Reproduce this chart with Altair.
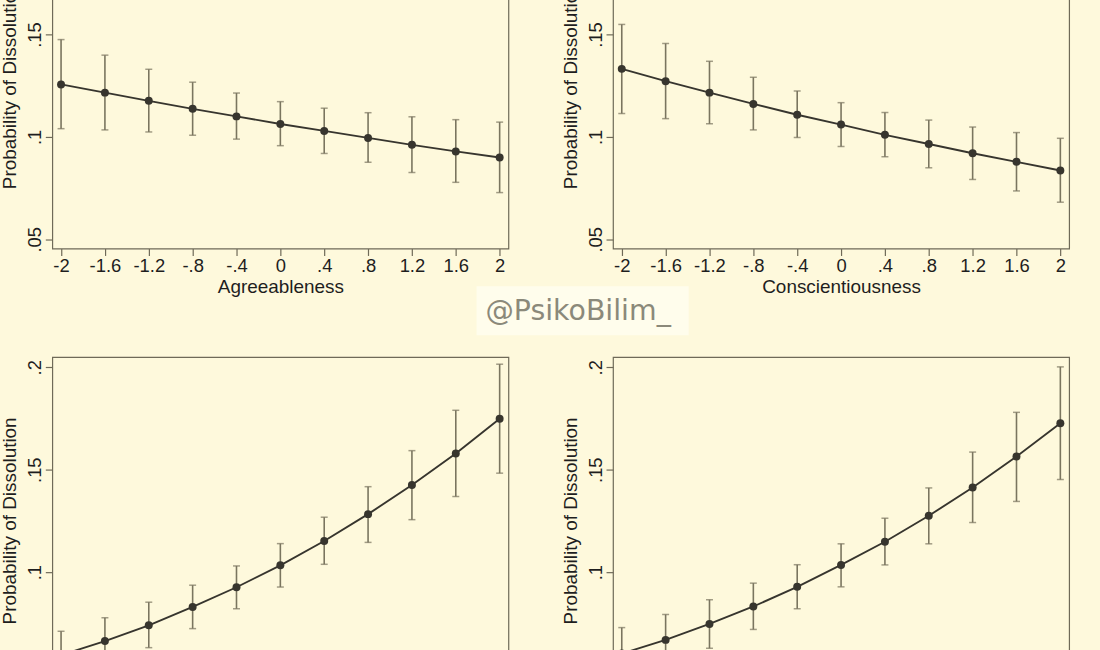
import altair as alt
import pandas as pd

# ---------------- data ----------------
x_levels = [-2, -1.6, -1.2, -0.8, -0.4, 0, 0.4, 0.8, 1.2, 1.6, 2]
y_ticks = [0.05, 0.1, 0.15, 0.2]

agree_est = [0.1256, 0.1216, 0.1176, 0.1137, 0.1100, 0.1063, 0.1029, 0.0995, 0.0961, 0.0929, 0.0899]
agree_lo = [0.1040, 0.1034, 0.1024, 0.1008, 0.0989, 0.0957, 0.0919, 0.0876, 0.0826, 0.0778, 0.0728]
agree_hi = [0.1475, 0.1399, 0.1330, 0.1267, 0.1214, 0.1172, 0.1140, 0.1118, 0.1098, 0.1084, 0.1072]

consc_est = [0.1332, 0.1272, 0.1216, 0.1161, 0.1108, 0.1060, 0.1010, 0.0965, 0.0920, 0.0878, 0.0836]
consc_lo = [0.1114, 0.1089, 0.1064, 0.1034, 0.0997, 0.0953, 0.0903, 0.0849, 0.0792, 0.0736, 0.0681]
consc_hi = [0.1549, 0.1456, 0.1369, 0.1291, 0.1224, 0.1167, 0.1119, 0.1082, 0.1048, 0.1021, 0.0993]

neuro_est = [0.0595, 0.0663, 0.0740, 0.0830, 0.0926, 0.1033, 0.1152, 0.1283, 0.1425, 0.1579, 0.1749]
neuro_lo = [0.0480, 0.0550, 0.0631, 0.0724, 0.0821, 0.0927, 0.1038, 0.1145, 0.1256, 0.1369, 0.1483]
neuro_hi = [0.0711, 0.0777, 0.0853, 0.0936, 0.1030, 0.1139, 0.1268, 0.1417, 0.1593, 0.1790, 0.2015]

open_est = [0.0602, 0.0669, 0.0747, 0.0832, 0.0928, 0.1035, 0.1148, 0.1275, 0.1413, 0.1564, 0.1727]
open_lo = [0.0470, 0.0540, 0.0628, 0.0720, 0.0821, 0.0928, 0.1035, 0.1138, 0.1242, 0.1345, 0.1452]
open_hi = [0.0729, 0.0793, 0.0865, 0.0946, 0.1036, 0.1138, 0.1263, 0.1411, 0.1586, 0.1780, 0.2002]

watermark = ["@PsikoBilim_"]

# ---------------- styling ----------------
BG = "#FEF9DC"
FRAME = "#6f6a58"
CI_COL = "#7a755f"
LINE_COL = "#37352e"
TEXT_COL = "#1e1e1e"
FONT = "Liberation Sans"

W, H = 458, 328
xs = alt.Scale(domain=[-2.08, 2.08], nice=False, zero=False)
ys = alt.Scale(domain=[0.0455, 0.205], nice=False, zero=False)

x_label_expr = "(datum.value < 0 ? '-' : '') + replace(format(abs(datum.value), '~g'), '0.', '.')"
y_label_expr = "substring(format(datum.value, '.2~f'), 1)"


def make_axes(xtitle):
    xaxis = alt.Axis(values=x_levels, labelExpr=x_label_expr, title=xtitle,
                     tickSize=7, labelPadding=1, titlePadding=3,
                     labelFlush=False, labelOverlap=False, grid=False, domain=False)
    yaxis = alt.Axis(values=y_ticks, labelExpr=y_label_expr, title="Probability of Dissolution",
                     labelAngle=270, labelAlign="center", labelBaseline="bottom",
                     tickSize=7, labelPadding=1, titlePadding=6,
                     labelFlush=False, labelOverlap=False, grid=False, domain=False)
    return xaxis, yaxis


def panel(xtitle, est, lo, hi, with_mark=False):
    df = pd.DataFrame({"x": x_levels, "est": est, "lo": lo, "hi": hi})
    xaxis, yaxis = make_axes(xtitle)
    X = alt.X("x:Q", scale=xs, axis=xaxis)

    def Y(f):
        return alt.Y(f + ":Q", scale=ys, axis=yaxis)

    base = alt.Chart(df)
    ci = base.mark_rule(color=CI_COL, strokeWidth=1.6).encode(x=X, y=Y("lo"), y2="hi:Q")
    cap_lo = base.mark_tick(orient="horizontal", size=7, thickness=1.5, color=CI_COL).encode(x=X, y=Y("lo"))
    cap_hi = base.mark_tick(orient="horizontal", size=7, thickness=1.5, color=CI_COL).encode(x=X, y=Y("hi"))
    line = base.mark_line(color=LINE_COL, strokeWidth=1.9).encode(x=X, y=Y("est"))
    pts = base.mark_circle(color=LINE_COL, size=64, opacity=1).encode(x=X, y=Y("est"))
    layers = [ci, cap_lo, cap_hi, line, pts]
    if with_mark:
        wdf = pd.DataFrame({"label": watermark})
        box = alt.Chart(wdf).mark_rect(color="#FFFDEC").encode(
            x=alt.value(426), x2=alt.value(639), y=alt.value(366), y2=alt.value(415))
        txt = alt.Chart(wdf).mark_text(font="DejaVu Sans", fontSize=28.5, color="#8b897a",
                                       align="center", baseline="alphabetic").encode(
            x=alt.value(528), y=alt.value(400), text="label:N")
        layers += [box, txt]
    return alt.layer(*layers).properties(width=W, height=H)


p1 = panel("Agreeableness", agree_est, agree_lo, agree_hi, with_mark=True)
p2 = panel("Conscientiousness", consc_est, consc_lo, consc_hi)
p3 = panel("Neuroticism", neuro_est, neuro_lo, neuro_hi)
p4 = panel("Openness", open_est, open_lo, open_hi)

chart = alt.concat(p1, p2, p3, p4, columns=2, spacing={"row": 109, "column": 105},
                   bounds="flush").properties(
    padding={"left": -0.5, "top": -81, "right": 30, "bottom": 0},
    background=BG,
).configure_view(
    stroke=FRAME, strokeWidth=1.2, fill=BG
).configure_axis(
    labelFont=FONT, titleFont=FONT, labelFontSize=18.5, titleFontSize=19,
    labelColor=TEXT_COL, titleColor=TEXT_COL, titleFontWeight="normal",
    tickColor=FRAME, tickWidth=1.2
)

chart.save("out.html", embed_options={"renderer": "svg", "actions": False})
